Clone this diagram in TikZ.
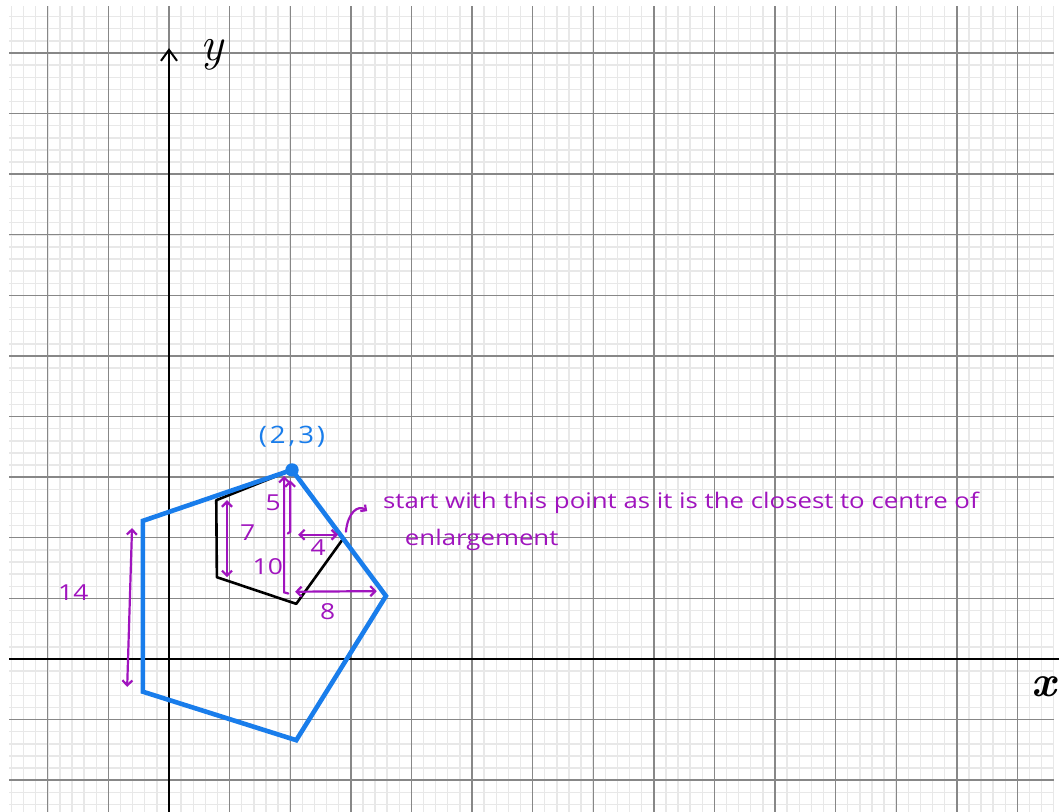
\documentclass[tikz,border=0pt]{standalone}
\usepackage{fontspec}
\setsansfont{Open Sans}
\newfontfamily\handfont[FakeStretch=1.2]{Open Sans}
\newfontfamily\coordfont[FakeStretch=1.15,LetterSpace=12]{Open Sans}
\usetikzlibrary{arrows.meta}
\definecolor{mag}{RGB}{160,20,190}
\definecolor{blu}{RGB}{25,125,235}
\definecolor{minorg}{RGB}{232,232,232}
\definecolor{majorg}{RGB}{135,135,135}
\begin{document}
\begin{tikzpicture}[x=60.6pt,y=60.6pt,
  minorgrid/.style={draw=minorg,line width=1.4pt},
  majorgrid/.style={draw=majorg,line width=1.4pt},
  axisline/.style={draw=black,line width=2.8pt},
  bigshape/.style={draw=blu,line width=4.6pt,line join=miter},
  smallshape/.style={draw=black,line width=2.6pt,line join=round},
  dim/.style={draw=mag,line width=2.2pt,line cap=round},
  dimtips/.style={dim,{Straight Barb[length=5pt,width=10pt]}-{Straight Barb[length=5pt,width=10pt]}},
  toptip/.style={dim,{Straight Barb[length=5pt,width=10pt]}-},
  hand/.style={text=mag,font=\handfont\fontsize{21.5}{25}\selectfont,inner sep=0pt},
  num/.style={text=mag,font=\handfont\fontsize{22}{25}\selectfont,inner sep=0pt},
]
\useasboundingbox (-2.7888,-2.5248) rectangle (14.6865,10.8746);
\fill[white] (-2.7888,-2.5248) rectangle (14.6865,10.8746);
% grid
\draw[minorgrid] (-2.64,-2.53) grid[step=0.2] (14.60,10.776);
\draw[majorgrid] (-2.64,-2.53) grid[step=1] (14.60,10.776);
% axes
\coordinate (xl) at (-2.64,0);
\coordinate (xr) at (14.69,0);
\coordinate (yb) at (0,-2.53);
\coordinate (yt) at (0,10.08);
\draw[axisline] (xl) -- (xr);
\draw[axisline,-{Straight Barb[length=11pt,width=16pt,line width=2pt]}] (yb) -- (yt);
\node[font=\fontsize{48}{52}\selectfont\itshape,inner sep=0pt] (ylab) at (0.71,9.97) {y};
\node[font=\fontsize{44}{48}\selectfont\bfseries\itshape,inner sep=0pt] (xlab) at (14.43,-0.46) {x};
% vertices
\coordinate (P) at (2.03,3.12);
\coordinate (R) at (3.58,1.04);
\coordinate (Bt) at (2.10,-1.34);
\coordinate (BL) at (-0.43,-0.54);
\coordinate (TL) at (-0.43,2.28);
\coordinate (A) at (0.78,2.62);
\coordinate (B) at (0.79,1.35);
\coordinate (C) at (2.10,0.91);
\coordinate (D) at (2.87,1.98);
% object (black)
\draw[smallshape] (P) -- (D) -- (C) -- (B) -- (A) -- cycle;
% image (blue)
\draw[bigshape] (P) -- (R) -- (Bt) -- (BL) -- (TL) -- cycle;
\fill[blu] (P) circle (0.11);
\node[text=blu,font=\coordfont\fontsize{24}{28}\selectfont,inner sep=0pt] (plab) at (2.03,3.66) {(2,3)};
% dimension arrows
\coordinate (a7t) at (0.957,2.62);
\coordinate (a7b) at (0.957,1.35);
\draw[dimtips] (a7t) -- (a7b);
\node[num] (n7) at (1.30,2.08) {7};
\coordinate (a10t) at (1.90,3.02);
\coordinate (a10b) at (1.90,1.10);
\coordinate (a10h) at (1.97,1.08);
\draw[toptip] (a10t) -- (a10b) -- (a10h);
\node[num] (n10) at (1.63,1.53) {10};
\coordinate (a5t) at (2.00,2.95);
\coordinate (a5b) at (2.00,2.10);
\coordinate (a5h) at (1.96,2.07);
\draw[toptip] (a5t) -- (a5b) -- (a5h);
\node[num] (n5) at (1.72,2.57) {5};
\coordinate (a4l) at (2.13,2.05);
\coordinate (a4r) at (2.79,2.05);
\draw[dimtips] (a4l) -- (a4r);
\node[num] (n4) at (2.46,1.83) {4};
\coordinate (a8l) at (2.08,1.11);
\coordinate (a8r) at (3.43,1.12);
\draw[dimtips] (a8l) -- (a8r);
\node[num] (n8) at (2.62,0.78) {8};
\coordinate (a14t) at (-0.61,2.16);
\coordinate (a14b) at (-0.69,-0.46);
\draw[dimtips] (a14t) -- (a14b);
\node[num] (n14) at (-1.58,1.09) {14};
% note
\coordinate (cs) at (2.92,2.10);
\coordinate (ce) at (3.27,2.44);
\draw[dim,-{Straight Barb[length=4pt,width=8pt]}] (cs) .. controls (2.95,2.42) and (3.12,2.55) .. (ce);
\node[hand,anchor=west] (note1) at (3.53,2.58) {start with this point as it is the closest to centre of};
\node[hand,anchor=west] (note2) at (3.89,1.97) {enlargement};
\end{tikzpicture}
\end{document}
